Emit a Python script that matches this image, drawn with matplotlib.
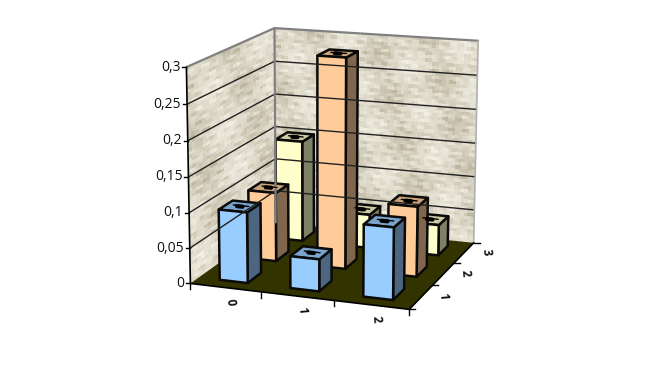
import numpy as np
import matplotlib
matplotlib.use('Agg')
import matplotlib.pyplot as plt
from matplotlib.patches import Polygon

plt.rcParams['font.family'] = ['Open Sans', 'DejaVu Sans']

# heights per category, one list per row (front to back)
categories = ['0', '1', '2']
rows = ['1', '2', '3']
blue = [0.10, 0.045, 0.10]
orange = [0.10, 0.30, 0.10]
yellow = [0.15, 0.05, 0.045]
z_ticks = [0, 0.05, 0.1, 0.15, 0.2, 0.25, 0.3]
z_labels = ['0', '0,05', '0,1', '0,15', '0,2', '0,25', '0,3']

# face colours: front, side, top
blue_c = ['#99CCFF', '#4D6680', '#7AA3CC']
orange_c = ['#FFCC99', '#80664D', '#CCA37A']
yellow_c = ['#FFFFCC', '#808066', '#CCCCA3']

# box corners in chart units -> where they sit in the picture, used to fit the camera
world = np.array([[0, 0, 0], [3, 0, 0], [3, 3, 0], [0, 3, 0],
                  [0, 0, .3], [0, 3, .3], [3, 3, .3]], float)
pixels = np.array([[191, 283], [409, 310], [474, 242], [275, 223],
                   [186, 67], [275, 28], [478, 41]], float)


def fit_camera(w, p):
    a, b = [], []
    for (x, y, z), (u, v) in zip(w, p):
        a.append([x, y, z, 1, 0, 0, 0, 0, -u*x, -u*y, -u*z])
        a.append([0, 0, 0, 0, x, y, z, 1, -v*x, -v*y, -v*z])
        b += [u, v]
    m = np.linalg.lstsq(np.array(a), np.array(b), rcond=None)[0]
    return np.append(m, 1).reshape(3, 4)


cam = fit_camera(world, pixels)


def proj(x, y, z):
    x, y, z = np.broadcast_arrays(x, y, z)
    h = cam @ np.array([x.ravel(), y.ravel(), z.ravel(), np.ones(x.size)])
    return (h[0]/h[2]).reshape(x.shape), (h[1]/h[2]).reshape(x.shape)


def quad(pts, **kw):
    u, v = proj(*np.array(pts, float).T)
    ax.add_patch(Polygon(np.c_[u, v], closed=True, **kw))


def line(a, b, **kw):
    u, v = proj(*np.array([a, b], float).T)
    ax.plot(u, v, solid_capstyle='round', **kw)


def texture(n, m):
    i, j = np.meshgrid(np.arange(n), np.arange(m))
    w = (np.sin(i*1.7)*np.sin(j*0.9) + np.sin(i*0.37 + j*0.11)*1.1
         + np.sin(j*2.3 + i*0.2)*0.8 + np.sin(i*5.1 + j*3.7)*0.7
         + np.sin(j*0.43 - i*0.19)*0.8)
    return w


def wall(fn, n, m):
    # fn maps (s, t) in 0..1 to chart coordinates
    s, t = np.meshgrid(np.linspace(0, 1, n+1), np.linspace(0, 1, m+1))
    u, v = proj(*fn(s, t))
    ax.pcolormesh(u, v, texture(n, m), cmap=tex_cmap, vmin=-3, vmax=3,
                  shading='flat', rasterized=True, linewidth=0)


fig = plt.figure(figsize=(6.66, 3.81), dpi=100)
ax = fig.add_axes([0, 0, 1, 1])
ax.set_xlim(0, 666)
ax.set_ylim(381, 0)
ax.axis('off')
tex_cmap = matplotlib.colors.LinearSegmentedColormap.from_list(
    'canvas', ['#BDB6A0', '#DDD8C8', '#F0EDE2'])

wall(lambda s, t: (0*s, 3*s, .3*t), 26, 60)
wall(lambda s, t: (3*s, 3+0*s, .3*t), 60, 60)

for z in z_ticks[1:-1]:
    line((0, 0, z), (0, 3, z), color='#202020', lw=1)
    line((0, 3, z), (3, 3, z), color='#202020', lw=1)

quad([(0, 0, 0), (3, 0, 0), (3, 3, 0), (0, 3, 0)], fc='#333300', ec='none')

# wall outline
line((0, 0, .3), (0, 3, .3), color='#808080', lw=1.6)
line((0, 3, .3), (3, 3, .3), color='#808080', lw=1.6)
line((0, 3, 0), (0, 3, .3), color='#808080', lw=1.6)
line((3, 3, 0), (3, 3, .3), color='#B0B0B0', lw=1.2)

# axes and ticks
line((0, 0, 0), (0, 0, .3), color='black', lw=1.2)
line((0, 0, 0), (3, 0, 0), color='black', lw=1.2)
line((3, 0, 0), (3, 3, 0), color='black', lw=1.2)
for z, lab in zip(z_ticks, z_labels):
    u, v = proj(0, 0, z)
    ax.plot([u-4, u], [v, v], color='black', lw=1)
    ax.text(u-6, v, lab, ha='right', va='center', fontsize=10, color='#111111')
for i in range(4):
    u, v = proj(i, 0, 0)
    ax.plot([u, u], [v, v+6], color='black', lw=1)
    u, v = proj(3, i, 0)
    ax.plot([u, u+6], [v, v], color='black', lw=1)
for i, lab in enumerate(categories):
    u, v = proj(i+.5, 0, 0)
    ax.text(u+5, v+14, lab, ha='center', va='center', fontsize=8.5,
            rotation=-85, color='#111111', fontweight='bold')
for i, lab in enumerate(rows):
    u, v = proj(3, i+.5, 0)
    ax.text(u+22, v-1, lab, ha='center', va='center', fontsize=8.5,
            rotation=-85, color='#111111', fontweight='bold')

# bars, back row first so nearer ones overlap
half_x = 0.2
half_y = 0.23
for r, (vals, cols) in reversed(list(enumerate([(blue, blue_c), (orange, orange_c), (yellow, yellow_c)]))):
    for c, h in enumerate(vals):
        x0, x1 = c+.5-half_x, c+.5+half_x
        y0, y1 = r+.5-half_y, r+.5+half_y
        edge = dict(ec='#0A0A0A', lw=1.8, joinstyle='round')
        quad([(x1, y0, 0), (x1, y1, 0), (x1, y1, h), (x1, y0, h)], fc=cols[1], **edge)
        quad([(x0, y0, h), (x1, y0, h), (x1, y1, h), (x0, y1, h)], fc=cols[2], **edge)
        quad([(x0, y0, 0), (x1, y0, 0), (x1, y0, h), (x0, y0, h)], fc=cols[0], **edge)
        # flattened error bar on the top face
        cx, cy = c+.5, r+.5
        line((cx-.11, cy+.04, h), (cx+.11, cy+.04, h), color='black', lw=1)
        line((cx-.04, cy, h), (cx+.04, cy, h), color='black', lw=3)

fig.savefig('out.png', dpi=100, facecolor='white')
